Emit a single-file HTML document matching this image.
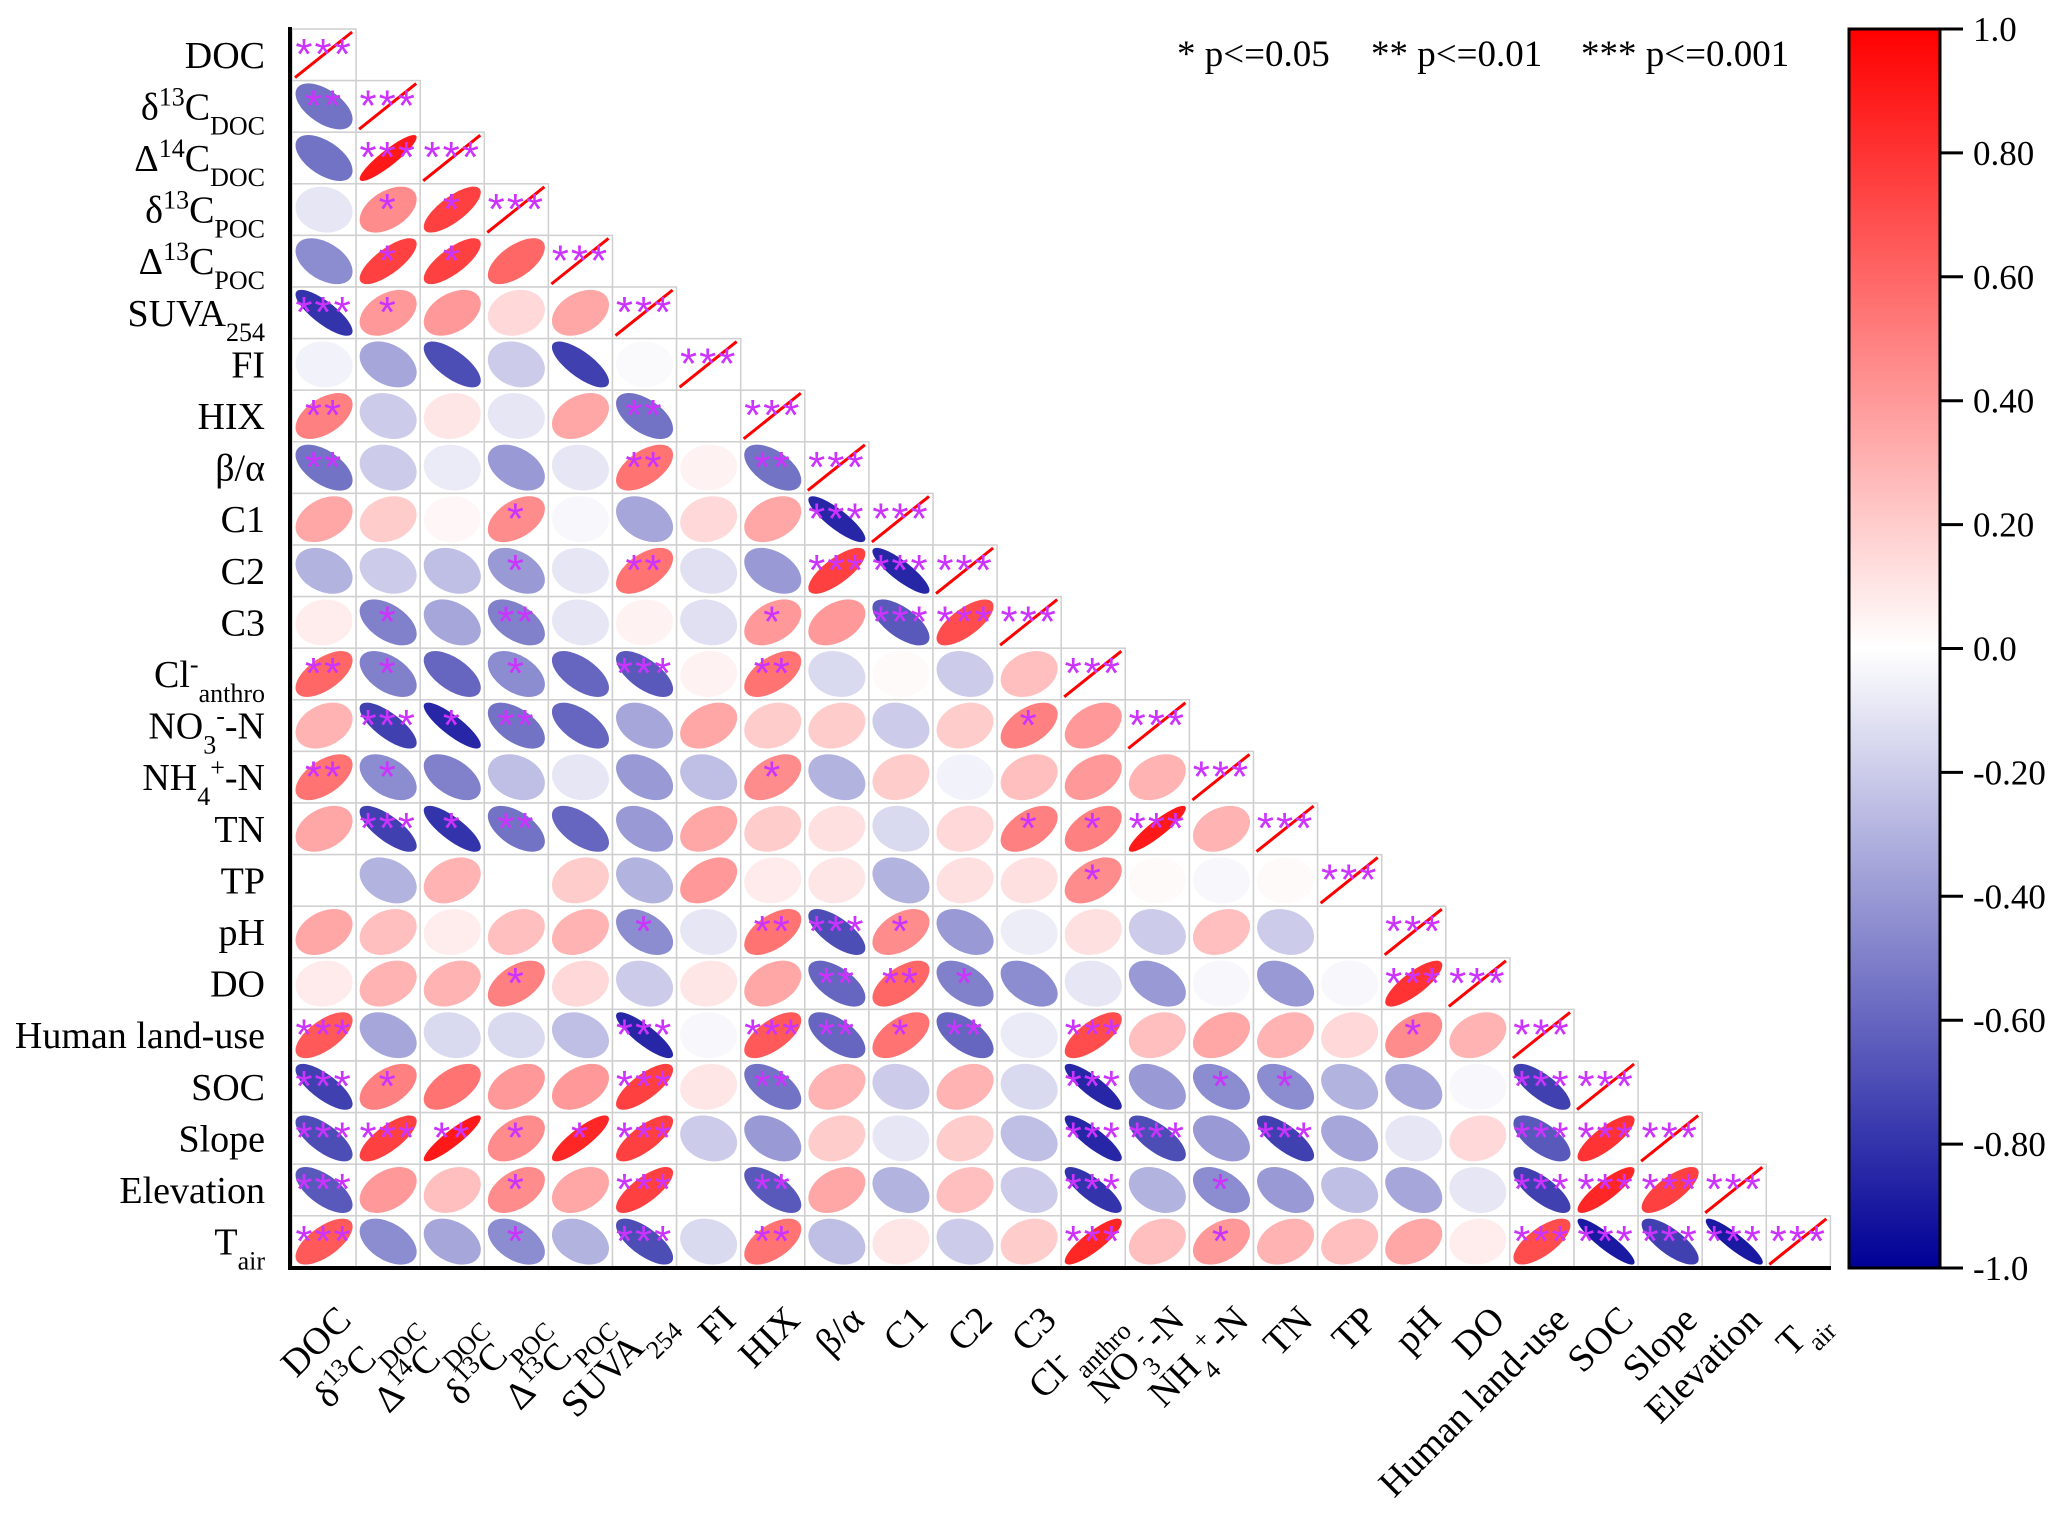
<!DOCTYPE html>
<html><head><meta charset="utf-8"><style>
html,body{margin:0;padding:0;background:#fff;}
svg{display:block;font-family:"Liberation Serif",serif;}
</style></head><body>
<svg id="chart" width="2067" height="1515" viewBox="0 0 2067 1515" xmlns="http://www.w3.org/2000/svg">
<defs>
<linearGradient id="cbar" x1="0" y1="0" x2="0" y2="1">
<stop offset="0" stop-color="rgb(255,0,0)"/>
<stop offset="0.5" stop-color="rgb(255,255,255)"/>
<stop offset="1" stop-color="rgb(0,0,150)"/>
</linearGradient>
</defs>
<g id="cells"></g>
<g id="labels"></g>
<g font-size="37" fill="#000">
<text x="1177" y="66">* p&lt;=0.05</text>
<text x="1371" y="66">** p&lt;=0.01</text>
<text x="1581" y="66">*** p&lt;=0.001</text>
</g>
<rect x="1849" y="29" width="91" height="1239" fill="url(#cbar)" stroke="#000" stroke-width="3"/>
<g id="cbticks"></g>
</svg>
<script>
const labels = ["DOC","δ<tspan baseline-shift='super' font-size='26'>13</tspan>C<tspan baseline-shift='sub' font-size='26'>DOC</tspan>","Δ<tspan baseline-shift='super' font-size='26'>14</tspan>C<tspan baseline-shift='sub' font-size='26'>DOC</tspan>","δ<tspan baseline-shift='super' font-size='26'>13</tspan>C<tspan baseline-shift='sub' font-size='26'>POC</tspan>","Δ<tspan baseline-shift='super' font-size='26'>13</tspan>C<tspan baseline-shift='sub' font-size='26'>POC</tspan>","SUVA<tspan baseline-shift='sub' font-size='26'>254</tspan>","FI","HIX","β/α","C1","C2","C3","Cl<tspan baseline-shift='super' font-size='26'>-</tspan><tspan baseline-shift='sub' font-size='26'>anthro</tspan>","NO<tspan baseline-shift='sub' font-size='26'>3</tspan><tspan baseline-shift='super' font-size='26'>-</tspan>-N","NH<tspan baseline-shift='sub' font-size='26'>4</tspan><tspan baseline-shift='super' font-size='26'>+</tspan>-N","TN","TP","pH","DO","Human land-use","SOC","Slope","Elevation","T<tspan baseline-shift='sub' font-size='26'>air</tspan>"];
const corr = [
[],
[-0.55],
[-0.55,0.9],
[-0.1,0.45,0.75],
[-0.45,0.75,0.75,0.6],
[-0.8,0.4,0.4,0.15,0.35],
[-0.05,-0.35,-0.7,-0.2,-0.75,-0.02],
[0.5,-0.2,0.1,-0.1,0.35,-0.55,0],
[-0.55,-0.2,-0.08,-0.4,-0.1,0.55,0.05,-0.55],
[0.35,0.2,0.03,0.45,-0.03,-0.35,0.15,0.35,-0.85],
[-0.3,-0.2,-0.25,-0.4,-0.1,0.55,-0.12,-0.4,0.75,-0.85],
[0.07,-0.5,-0.35,-0.5,-0.1,0.05,-0.12,0.4,0.4,-0.65,0.7],
[0.6,-0.5,-0.6,-0.45,-0.6,-0.65,0.05,0.55,-0.15,0.02,-0.2,0.25],
[0.3,-0.75,-0.85,-0.55,-0.6,-0.35,0.35,0.2,0.2,-0.2,0.2,0.5,0.4],
[0.55,-0.45,-0.5,-0.25,-0.1,-0.4,-0.25,0.45,-0.3,0.2,-0.05,0.25,0.4,0.3],
[0.35,-0.75,-0.8,-0.55,-0.6,-0.4,0.35,0.2,0.12,-0.15,0.15,0.5,0.5,0.9,0.3],
[0,-0.3,0.3,0,0.2,-0.3,0.4,0.08,0.1,-0.3,0.12,0.12,0.45,0.02,-0.03,0.02],
[0.35,0.25,0.07,0.25,0.3,-0.45,-0.1,0.55,-0.7,0.45,-0.4,-0.07,0.12,-0.2,0.25,-0.2,0],
[0.08,0.3,0.3,0.5,0.15,-0.2,0.1,0.35,-0.6,0.6,-0.5,-0.45,-0.1,-0.4,-0.03,-0.4,-0.03,0.8],
[0.65,-0.35,-0.15,-0.15,-0.25,-0.85,-0.03,0.65,-0.6,0.55,-0.6,-0.08,0.7,0.25,0.35,0.3,0.15,0.45,0.3],
[-0.75,0.5,0.55,0.4,0.4,0.75,0.1,-0.55,0.3,-0.2,0.3,-0.15,-0.85,-0.4,-0.45,-0.45,-0.3,-0.35,-0.03,-0.75],
[-0.7,0.75,0.9,0.45,0.85,0.75,-0.2,-0.4,0.2,-0.1,0.2,-0.25,-0.85,-0.7,-0.4,-0.75,-0.35,-0.1,0.15,-0.65,0.8],
[-0.65,0.4,0.25,0.45,0.35,0.75,0,-0.65,0.35,-0.3,0.25,-0.2,-0.8,-0.3,-0.45,-0.4,-0.25,-0.35,-0.1,-0.75,0.85,0.75],
[0.65,-0.45,-0.35,-0.45,-0.3,-0.7,-0.15,0.55,-0.25,0.1,-0.2,0.2,0.85,0.25,0.4,0.3,0.25,0.35,0.07,0.7,-0.9,-0.75,-0.9]
];
const sig = [
[],
[2],
[0,3],
[0,1,1],
[0,1,1,0],
[3,1,0,0,0],
[0,0,0,0,0,0],
[2,0,0,0,0,2,0],
[2,0,0,0,0,2,0,2],
[0,0,0,1,0,0,0,0,3],
[0,0,0,1,0,2,0,0,3,3],
[0,1,0,2,0,0,0,1,0,3,3],
[2,1,0,1,0,3,0,2,0,0,0,0],
[0,3,1,2,0,0,0,0,0,0,0,1,0],
[2,1,0,0,0,0,0,1,0,0,0,0,0,0],
[0,3,1,2,0,0,0,0,0,0,0,1,1,3,0],
[0,0,0,0,0,0,0,0,0,0,0,0,1,0,0,0],
[0,0,0,0,0,1,0,2,3,1,0,0,0,0,0,0,0],
[0,0,0,1,0,0,0,0,2,2,1,0,0,0,0,0,0,3],
[3,0,0,0,0,3,0,3,2,1,2,0,3,0,0,0,0,1,0],
[3,1,0,0,0,3,0,2,0,0,0,0,3,0,1,1,0,0,0,3],
[3,3,2,1,1,3,0,0,0,0,0,0,3,3,0,3,0,0,0,3,3],
[3,0,0,1,0,3,0,2,0,0,0,0,3,0,1,0,0,0,0,3,3,3],
[3,0,0,1,0,3,0,2,0,0,0,0,3,0,1,0,0,0,0,3,3,3,3]
];
const cbTickValues = [1,0.8,0.6,0.4,0.2,0,-0.2,-0.4,-0.6,-0.8,-1];
const cbTickLabels = ["1.0","0.80","0.60","0.40","0.20","0.0","-0.20","-0.40","-0.60","-0.80","-1.0"];

const NS = "http://www.w3.org/2000/svg";
const X0 = 292, Y0 = 29, CW = 64.1, CH = 51.6, N = labels.length;
const xPos = c => X0 + c * CW;
const yPos = r => Y0 + r * CH;
const cbY = v => 29 + (1 - v) / 2 * 1239;
function color(r){
  if (r >= 0){ const k = Math.round(255*(1-r)); return `rgb(255,${k},${k})`; }
  const t = -r; return `rgb(${Math.round(255*(1-t))},${Math.round(255*(1-t))},${Math.round(255-105*t)})`;
}
function el(tag, attrs, parent){
  const e = document.createElementNS(NS, tag);
  for (const k in attrs) e.setAttribute(k, attrs[k]);
  parent.appendChild(e); return e;
}
const cells = document.getElementById('cells');
const lab = document.getElementById('labels');
const starStr = ["","*","**","***"];

for (let i = 0; i < N; i++){
  for (let j = 0; j <= i; j++){
    const x = xPos(j), y = yPos(i), cx = x + CW/2, cy = y + CH/2;
    const box = el('rect', {x:x, y:y, width:CW, height:CH, fill:'#fff', stroke:'#cfcfcf', 'stroke-width':1.5}, cells);
    
    
    let lvl;
    if (i === j){
      const ln = el('line', {x1:x+3, y1:y+CH-3, x2:x+CW-4, y2:y+3, stroke:'#ff0000', 'stroke-width':3}, cells);
      
      
      lvl = 3;
    } else {
      const r = corr[i][j];
      const g = el('g', {transform:`translate(${cx},${cy}) scale(${CW*0.445},${CH*0.445}) rotate(${r >= 0 ? -45 : 45})`}, cells);
      const e = el('ellipse', {cx:0, cy:0, rx:Math.sqrt(1+Math.abs(r)), ry:Math.max(0.02, Math.sqrt(1-Math.abs(r))), fill:color(r)}, g);
      
      
      lvl = sig[i][j];
    }
    if (lvl > 0){
      const t = el('text', {x:cx, y:y+40, 'text-anchor':'middle', 'font-size':44, fill:'#cc33ff', 'font-family':'Liberation Sans, sans-serif', 'letter-spacing':2}, cells);
      t.textContent = starStr[lvl];
      
      
    }
  }
  const rl = el('text', {x:265, y:yPos(i)+CH/2+13, 'text-anchor':'end', 'font-size':38, fill:'#000'}, lab);
  rl.innerHTML = labels[i];
  
  
  const px = xPos(i) + CW/2 + 29, py = 1322;
  const cl = el('text', {x:px, y:py, 'text-anchor':'end', 'font-size':38, fill:'#000', transform:`rotate(-45 ${px} ${py})`}, lab);
  cl.innerHTML = labels[i];
  
  
}
const ax1 = el('line', {x1:290, y1:27, x2:290, y2:1270, stroke:'#000', 'stroke-width':4}, lab);


const ax2 = el('line', {x1:288, y1:1268, x2:1831, y2:1268, stroke:'#000', 'stroke-width':4}, lab);


const cbt = document.getElementById('cbticks');
cbTickValues.forEach((v, k) => {
  const y = cbY(v);
  const tk = el('line', {x1:1940, y1:y, x2:1963, y2:y, stroke:'#000', 'stroke-width':3}, cbt);
  
  
  const tl = el('text', {x:1973, y:y+12, 'font-size':35, fill:'#000'}, cbt);
  tl.textContent = cbTickLabels[k];
  
  
});
</script>
</body></html>
